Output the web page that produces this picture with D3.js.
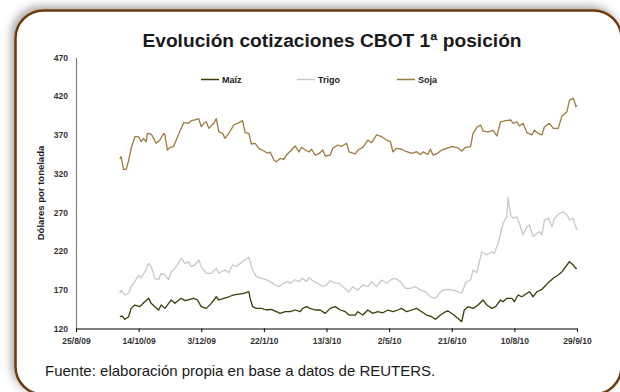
<!DOCTYPE html>
<html><head><meta charset="utf-8">
<script src="https://cdn.jsdelivr.net/npm/d3@7"></script>
<style>html,body{margin:0;padding:0;background:#fff;overflow:hidden}svg{display:block;font-family:Arial,"Liberation Sans",sans-serif}</style>
</head><body><svg id="c" width="620" height="392"></svg>
<script>
const chartTitle = "Evolución cotizaciones CBOT 1ª posición";
const yAxisTitle = "Dólares por tonelada";
const sourceNote = "Fuente: elaboración propia en base a datos de REUTERS.";
const seriesNames = ["Maíz", "Trigo", "Soja"];
const xTickLabels = ["25/8/09","14/10/09","3/12/09","22/1/10","13/3/10","2/5/10","21/6/10","10/8/10","29/9/10"];
const yTicks = [120,170,220,270,320,370,420,470];

const sojaDates = ["29/9/09","30/9/09","2/10/09","4/10/09","6/10/09","8/10/09","11/10/09","14/10/09","16/10/09","18/10/09","20/10/09","21/10/09","24/10/09","26/10/09","28/10/09","31/10/09","3/11/09","4/11/09","6/11/09","8/11/09","11/11/09","13/11/09","17/11/09","19/11/09","23/11/09","25/11/09","28/11/09","1/12/09","3/12/09","5/12/09","7/12/09","9/12/09","13/12/09","15/12/09","17/12/09","20/12/09","22/12/09","25/12/09","29/12/09","2/1/10","5/1/10","7/1/10","10/1/10","12/1/10","15/1/10","18/1/10","22/1/10","25/1/10","27/1/10","30/1/10","1/2/10","4/2/10","7/2/10","9/2/10","13/2/10","16/2/10","19/2/10","21/2/10","24/2/10","27/2/10","1/3/10","4/3/10","7/3/10","10/3/10","12/3/10","16/3/10","18/3/10","22/3/10","25/3/10","29/3/10","31/3/10","5/4/10","7/4/10","11/4/10","15/4/10","18/4/10","22/4/10","26/4/10","30/4/10","3/5/10","5/5/10","8/5/10","12/5/10","16/5/10","20/5/10","24/5/10","27/5/10","29/5/10","2/6/10","4/6/10","6/6/10","9/6/10","13/6/10","17/6/10","21/6/10","25/6/10","29/6/10","2/7/10","6/7/10","8/7/10","11/7/10","14/7/10","16/7/10","20/7/10","24/7/10","27/7/10","30/7/10","3/8/10","7/8/10","9/8/10","12/8/10","14/8/10","17/8/10","20/8/10","24/8/10","26/8/10","29/8/10","1/9/10","3/9/10","7/9/10","10/9/10","14/9/10","17/9/10","21/9/10","23/9/10","26/9/10","27/9/10","28/9/10","29/9/10"];
const sojaValues = [338.9,341.9,325.6,325.6,336.7,352.7,367.7,367.7,361.3,365.6,361,372,371,365.6,359.2,363.5,372,370,350.5,354,355,363.5,378.5,385.8,385,388.4,389.3,391,380.6,385,387,378.5,385,391,374.2,372,365.6,372,382.8,385.8,388.4,372.9,372,358.3,359.2,352.7,349.2,346.3,348,337.6,335.4,339.7,338.5,344,350.5,355.7,348,354,350.5,348,351.5,344,345.8,350.5,342.8,344,352.7,357,355,359.2,348,345.4,350.5,354,363.4,360,370,367.7,363.4,361.3,348.3,352.7,351.5,348.3,346.3,348.3,344.8,348,345,351.5,344,345.8,350.5,352.7,355,354,349.2,354,355,372,379.8,382.8,375,374,376,368.6,387,388.4,389.3,385,387,381.5,385,372.9,370,376,372,370,380.6,385,378.5,378.5,394.4,400,415,417.3,413,406.5,408.5];

const trigoDates = ["29/9/09","30/9/09","3/10/09","6/10/09","8/10/09","11/10/09","14/10/09","16/10/09","19/10/09","22/10/09","24/10/09","27/10/09","30/10/09","1/11/09","4/11/09","7/11/09","9/11/09","13/11/09","17/11/09","20/11/09","23/11/09","25/11/09","28/11/09","1/12/09","3/12/09","7/12/09","11/12/09","15/12/09","17/12/09","19/12/09","22/12/09","25/12/09","28/12/09","31/12/09","3/1/10","7/1/10","10/1/10","13/1/10","16/1/10","20/1/10","24/1/10","27/1/10","31/1/10","3/2/10","7/2/10","10/2/10","12/2/10","16/2/10","19/2/10","22/2/10","25/2/10","27/2/10","3/3/10","6/3/10","10/3/10","13/3/10","16/3/10","20/3/10","23/3/10","26/3/10","31/3/10","3/4/10","7/4/10","11/4/10","15/4/10","18/4/10","22/4/10","26/4/10","30/4/10","4/5/10","7/5/10","11/5/10","15/5/10","19/5/10","23/5/10","27/5/10","31/5/10","4/6/10","8/6/10","11/6/10","14/6/10","18/6/10","22/6/10","26/6/10","29/6/10","2/7/10","6/7/10","8/7/10","11/7/10","15/7/10","19/7/10","23/7/10","25/7/10","28/7/10","1/8/10","4/8/10","5/8/10","7/8/10","9/8/10","12/8/10","14/8/10","17/8/10","20/8/10","22/8/10","25/8/10","28/8/10","30/8/10","1/9/10","3/9/10","6/9/10","9/9/10","11/9/10","15/9/10","18/9/10","21/9/10","23/9/10","26/9/10","27/9/10","29/9/10"];
const trigoValues = [165.5,169.7,163.3,165.5,174,180.5,189,185,193.4,204,200,184.8,183,191.3,189,183,193.4,199.8,210.6,204,206,200,202,208.5,200,191.3,191.3,197.7,191.3,193.4,195.5,192,202,200,204,208.5,212,195.5,187,184.8,183,180.5,176.2,174,178.5,180.5,178.5,183,180.5,184.8,180.5,186,180.5,178.5,174,176.2,182,178.5,178.5,174,167.5,174,169.7,176.2,174,180.5,174,182.6,178.5,183.5,184.8,180.5,171.9,171.9,174,169.7,167.5,161,158.8,165.5,169.7,170.6,169.7,167.5,165.5,179.2,182.6,195.5,192,219.2,214.9,219.2,217,230,255.9,264.5,289.4,266.7,262.4,264.5,255.9,240.8,251.6,253.7,238.6,243,245.1,240.8,260.1,262.4,251.6,262.4,268.8,271,266.7,260.1,262.4,255.9,247.2];

const maizDates = ["29/9/09","1/10/09","3/10/09","6/10/09","8/10/09","11/10/09","15/10/09","18/10/09","22/10/09","24/10/09","27/10/09","30/10/09","1/11/09","4/11/09","7/11/09","9/11/09","12/11/09","17/11/09","20/11/09","24/11/09","27/11/09","30/11/09","3/12/09","7/12/09","11/12/09","15/12/09","17/12/09","21/12/09","25/12/09","29/12/09","2/1/10","6/1/10","10/1/10","11/1/10","13/1/10","16/1/10","20/1/10","24/1/10","28/1/10","1/2/10","4/2/10","8/2/10","12/2/10","16/2/10","20/2/10","22/2/10","25/2/10","28/2/10","4/3/10","8/3/10","12/3/10","16/3/10","20/3/10","24/3/10","28/3/10","31/3/10","5/4/10","7/4/10","11/4/10","15/4/10","19/4/10","23/4/10","27/4/10","1/5/10","5/5/10","9/5/10","12/5/10","16/5/10","20/5/10","24/5/10","28/5/10","1/6/10","5/6/10","8/6/10","12/6/10","16/6/10","18/6/10","22/6/10","26/6/10","29/6/10","1/7/10","4/7/10","8/7/10","12/7/10","16/7/10","19/7/10","23/7/10","26/7/10","30/7/10","1/8/10","4/8/10","8/8/10","10/8/10","13/8/10","16/8/10","20/8/10","22/8/10","25/8/10","28/8/10","1/9/10","3/9/10","6/9/10","10/9/10","14/9/10","17/9/10","21/9/10","23/9/10","26/9/10","28/9/10","29/9/10"];
const maizValues = [135.2,136,131.9,135.2,146,150.3,148.2,153.3,159,152.5,148.2,143.9,150.3,146,152.5,156.8,152.5,159,156,157.7,159,156.8,148.2,146,152.5,161,156.8,159,161,163.3,164.5,165.5,167.5,159,148.2,146,146,143.9,144.7,141.7,139.5,141.7,141.7,143.9,141.7,146,148.2,146,143.9,143.9,139.5,146,148.2,143.9,141.7,137.4,137.4,141.7,137.4,143.9,139.5,141.7,140.3,143.9,141.7,143.9,146,141.7,143.9,146,141.7,137.4,135.2,131.9,137.4,141.7,142.6,138.4,133,128.8,143.9,148.2,146,150.3,156.8,150.3,146,148.2,156.8,154.6,159,159,154.6,163.3,161,165.5,167.5,161,167.5,170.6,174,179.2,184.8,189,193.4,202,206.3,202,197.7,197.7];

const colors = {"Maíz":"#3b3c0c","Trigo":"#c8c8c8","Soja":"#9c7b40"};

const parse = d3.timeParse("%d/%m/%y");
const svg = d3.select("#c");

// frame with shadow
const defs = svg.append("defs");
const f = defs.append("filter").attr("id","sh").attr("x","-10%").attr("y","-10%").attr("width","120%").attr("height","120%");
f.append("feGaussianBlur").attr("in","SourceAlpha").attr("stdDeviation",4).attr("result","b");
f.append("feOffset").attr("in","b").attr("dx",-3).attr("dy",-3).attr("result","o");
f.append("feFlood").attr("flood-color","#000").attr("flood-opacity",0.35).attr("result","c");
f.append("feComposite").attr("in","c").attr("in2","o").attr("operator","in").attr("result","s");
const m = f.append("feMerge"); m.append("feMergeNode").attr("in","s"); m.append("feMergeNode").attr("in","SourceGraphic");
svg.append("rect").attr("x",15.5).attr("y",10.5).attr("width",606).attr("height",384).attr("rx",28)
  .attr("fill","#fff").attr("stroke","#6e3a0e").attr("stroke-width",2.5).attr("filter","url(#sh)");

const x = d3.scaleTime().domain([parse(xTickLabels[0]), parse(xTickLabels[xTickLabels.length-1])]).range([76, 577]);
const y = d3.scaleLinear().domain([120, 470]).range([328.5, 57.5]);

// title
svg.append("text").attr("x",332).attr("y",47).attr("text-anchor","middle")
  .attr("font-size",19.2).attr("font-weight","bold").attr("fill","#1a1a1a").text(chartTitle);

// y axis
const ya = svg.append("g").attr("transform","translate(76,0)")
  .call(d3.axisLeft(y).tickValues(yTicks).tickSize(0).tickPadding(8));
ya.select(".domain").attr("stroke","#808080").attr("stroke-width",1.2);
ya.selectAll("text").attr("font-size",8.5).attr("font-weight","bold").attr("fill","#333").attr("font-family","Arial");

// x axis
const xa = svg.append("g").attr("transform","translate(0,328.5)")
  .call(d3.axisBottom(x).tickValues(xTickLabels.map(parse)).tickSize(3.5).tickPadding(6).tickFormat((d,i)=>xTickLabels[i]));
xa.select(".domain").attr("stroke","#000").attr("stroke-width",1);
xa.selectAll(".tick line").attr("stroke","#000");
xa.selectAll("text").attr("font-size",8.5).attr("font-weight","bold").attr("fill","#333").attr("font-family","Arial");

// y title
svg.append("text").attr("transform","translate(44,193) rotate(-90)").attr("text-anchor","middle")
  .attr("font-size",9.5).attr("font-weight","bold").attr("fill","#222").text(yAxisTitle);

// lines
const line = d3.line().x(d=>x(d.date)).y(d=>y(d.v));
const series = [
  {name:"Trigo", dates:trigoDates, values:trigoValues},
  {name:"Maíz", dates:maizDates, values:maizValues},
  {name:"Soja", dates:sojaDates, values:sojaValues}
];
series.forEach(s=>{
  const data = s.dates.map((d,i)=>({date:parse(d), v:s.values[i]}));
  svg.append("path").datum(data).attr("d",line).attr("fill","none")
    .attr("stroke",colors[s.name]).attr("stroke-width",1.3).attr("stroke-linejoin","round");
});

// legend
const legX = [201, 297, 397];
seriesNames.forEach((n,i)=>{
  svg.append("line").attr("x1",legX[i]).attr("x2",legX[i]+18).attr("y1",79.5).attr("y2",79.5)
    .attr("stroke",colors[n]).attr("stroke-width",1.5);
  svg.append("text").attr("x",legX[i]+21).attr("y",82.8).attr("font-size",9).attr("font-weight","bold")
    .attr("fill","#222").text(n);
});

// source
svg.append("text").attr("x",45).attr("y",375.5).attr("font-size",15).attr("fill","#1a1a1a").text(sourceNote);
</script></body></html>
